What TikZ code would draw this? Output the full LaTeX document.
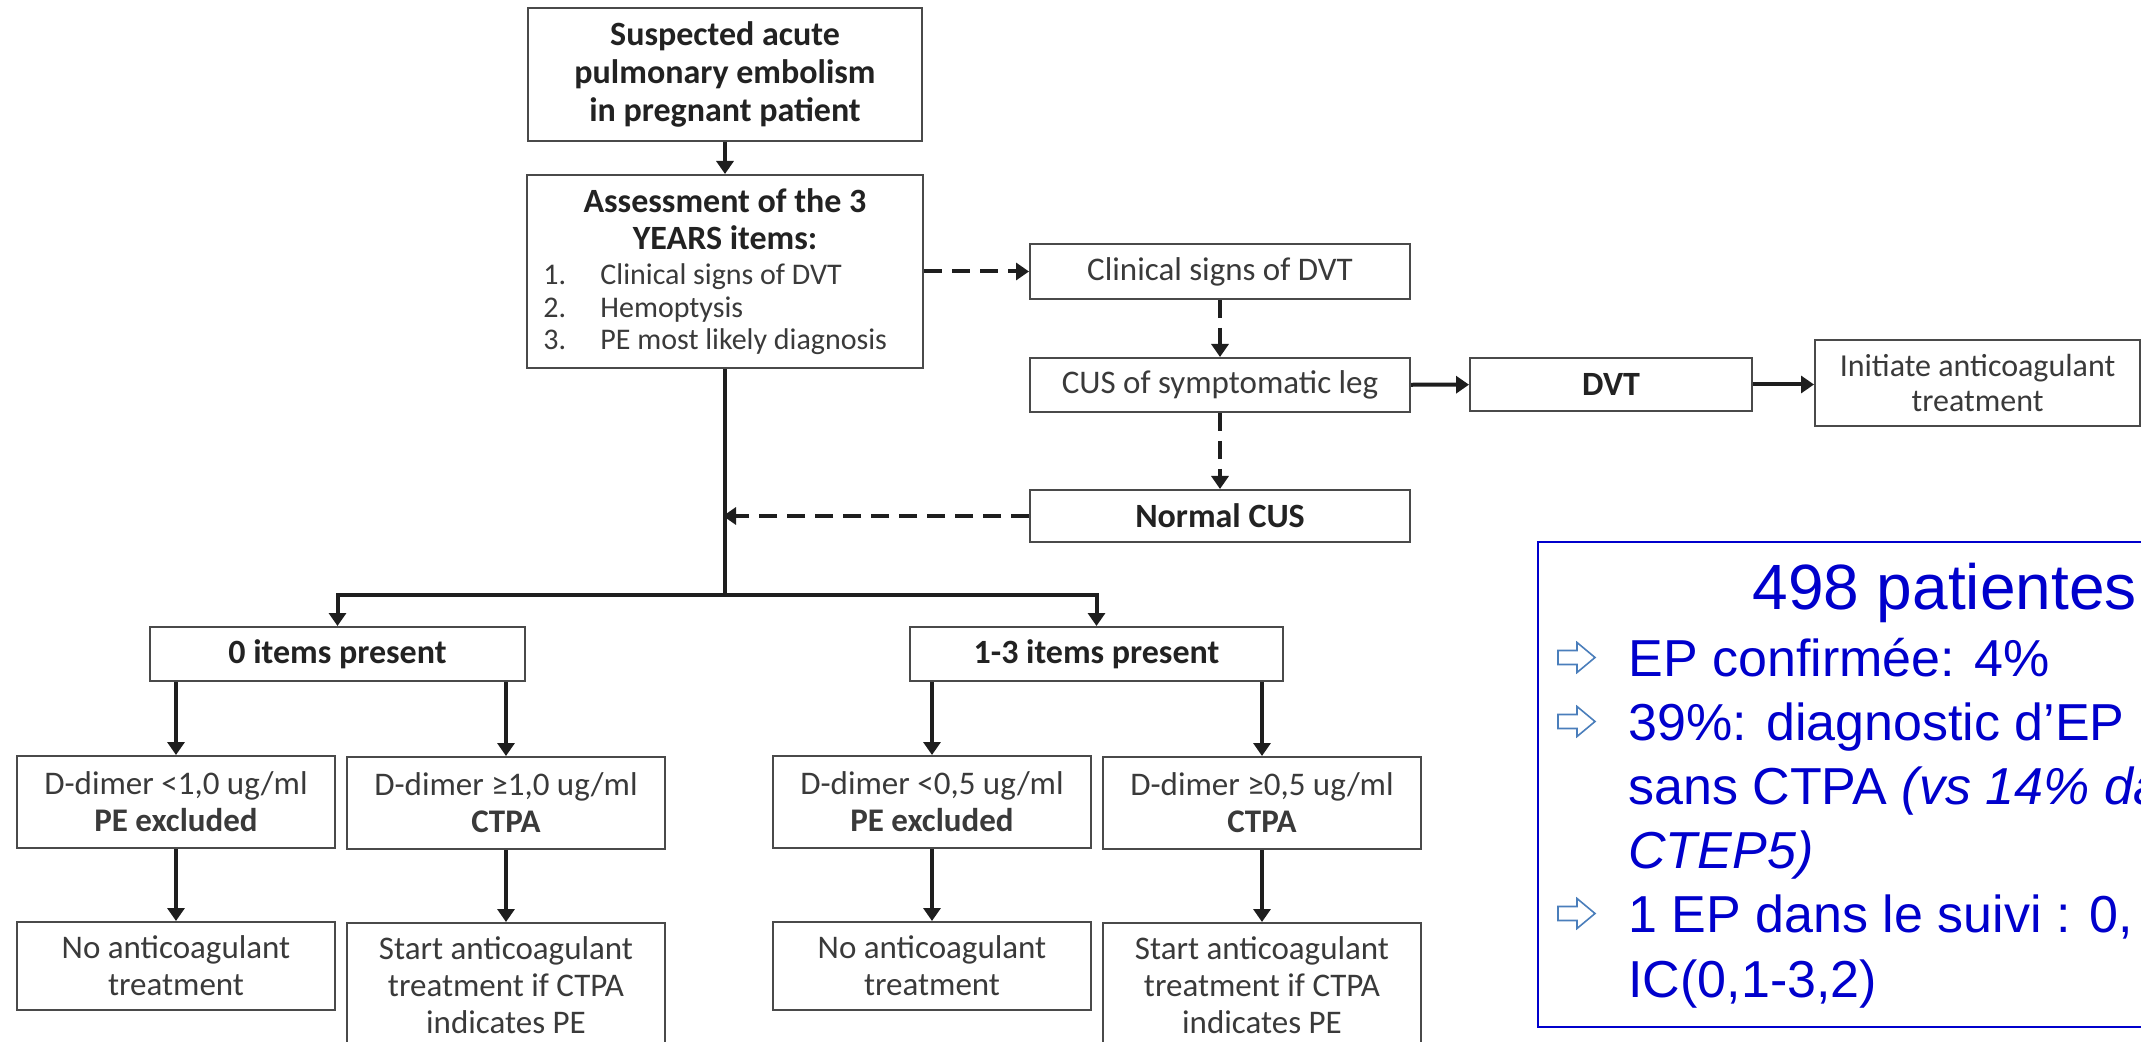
\documentclass[tikz,border=0pt]{standalone}
\usepackage{fontspec}
\setmainfont{Carlito}
\newfontfamily\statsfont{Liberation Sans}
\usetikzlibrary{arrows.meta}
\definecolor{inkgray}{HTML}{3A3A3A}
\definecolor{boldgray}{HTML}{222222}
\definecolor{framegray}{HTML}{4A4A4A}
\definecolor{linkblack}{HTML}{1E1E1E}
\definecolor{statblue}{RGB}{0,0,204}
\definecolor{bulletblue}{HTML}{4A7EBB}

\begin{document}
\begin{tikzpicture}[x=0.5pt, y=-0.5pt,
  box/.style={draw=framegray, line width=1pt, fill=white, inner sep=0pt,
    align=center, text=inkgray, font=\fontsize{16.5}{18.5}\selectfont},
  bold/.style={font=\bfseries\fontsize{17}{19}\selectfont, text=boldgray},
  dbox/.style={minimum width=159pt, minimum height=46pt},
  label/.style={inner sep=0pt, text=inkgray},
  itemtext/.style={label, anchor=base west, font=\fontsize{15}{16.5}\selectfont},
  link/.style={draw=linkblack, line width=2pt},
  flow/.style={link, -{Triangle[length=6.5pt,width=8.5pt]}},
  dashflow/.style={flow, dash pattern=on 9pt off 5pt},
  stattext/.style={anchor=base west, inner sep=0pt, text=statblue,
    font=\statsfont\fontsize{26}{32}\selectfont},
  hollowarrow/.pic={\draw[bulletblue, line width=0.8pt, line join=miter]
    (0,-7) -- (19,-7) -- (19,-15) -- (37,0) -- (19,15) -- (19,7) -- (0,7) -- cycle;}
]
\useasboundingbox (0,0) rectangle (2141,1042);
\fill[white] (0,0) rectangle (2141,1042);
\begin{scope}
\clip (0,0) rectangle (2141,1042);

% --- entry and YEARS assessment
\node[box, bold, minimum width=197pt, minimum height=66.5pt] (suspect) at (725,74.5)
  {Suspected acute\\pulmonary embolism\\in pregnant patient};
\node[box, minimum width=198pt, minimum height=96.5pt] (assess) at (725,271.5) {};
\node[label, bold, anchor=base] (assessHeadA) at (725,213) {Assessment of the 3};
\node[label, bold, anchor=base] (assessHeadB) at (725,250) {YEARS items:};
\node[itemtext] (numA) at (543,285) {1.};
\node[itemtext] (itemA) at (600,285) {Clinical signs of DVT};
\node[itemtext] (numB) at (543,318) {2.};
\node[itemtext] (itemB) at (600,318) {Hemoptysis};
\node[itemtext] (numC) at (543,350) {3.};
\node[itemtext] (itemC) at (600,350) {PE most likely diagnosis};

% --- DVT branch
\node[box, minimum width=190pt, minimum height=27.5pt] (clin) at (1220,271.5) {Clinical signs of DVT};
\node[box, minimum width=190pt, minimum height=27pt] (cus) at (1220,385) {CUS of symptomatic leg};
\node[box, bold, minimum width=190pt, minimum height=26pt] (normal) at (1220,516) {Normal CUS};
\node[box, bold, minimum width=141pt, minimum height=26.5pt] (dvt) at (1611,384.5) {DVT};
\node[box, font=\fontsize{16}{17.5}\selectfont, minimum width=162.5pt, minimum height=43pt] (init) at (1977.5,383)
  {Initiate anticoagulant\\treatment};

% --- item count groups
\node[box, bold, minimum width=187.5pt, minimum height=27pt] (zero) at (337.5,654) {0 items present};
\node[box, bold, minimum width=186.5pt, minimum height=27pt] (some) at (1096.5,654) {1-3 items present};

% --- D-dimer thresholds
\node[box, dbox] (dlowA) at (176,802) {D-dimer <1,0 ug/ml\\\textbf{PE excluded}};
\node[box, dbox] (dhighA) at (506,803) {D-dimer ≥1,0 ug/ml\\\textbf{CTPA}};
\node[box, dbox] (dlowB) at (932,802) {D-dimer <0,5 ug/ml\\\textbf{PE excluded}};
\node[box, dbox] (dhighB) at (1262,803) {D-dimer ≥0,5 ug/ml\\\textbf{CTPA}};

% --- management
\node[box, minimum width=159pt, minimum height=44pt] (noacA) at (176,966) {No anticoagulant\\treatment};
\node[box, minimum width=159pt, minimum height=62.5pt] (startA) at (506,985.5)
  {Start anticoagulant\\treatment if CTPA\\indicates PE};
\node[box, minimum width=159pt, minimum height=44pt] (noacB) at (932,966) {No anticoagulant\\treatment};
\node[box, minimum width=159pt, minimum height=62.5pt] (startB) at (1262,985.5)
  {Start anticoagulant\\treatment if CTPA\\indicates PE};

% --- connectors
\coordinate (split) at (725,595);
\draw[flow] (suspect) -- (assess);
\draw[dashflow] (assess.east) -- (clin.west);
\draw[dashflow] (clin) -- (cus);
\draw[dashflow] (cus) -- (normal);
\draw[flow] (cus) -- (dvt);
\draw[flow] (dvt.east) -- (dvt.east -| init.west);
\draw[link] (assess.south) -- (split);
\draw[dashflow, shorten >=-1pt] (normal.west) -- (assess.south |- normal.west);
\draw[flow] (split) -| (zero.north);
\draw[flow] (split) -| (some.north);
\draw[flow] (dlowA.north |- zero.south) -- (dlowA.north);
\draw[flow] (dhighA.north |- zero.south) -- (dhighA.north);
\draw[flow] (dlowB.north |- some.south) -- (dlowB.north);
\draw[flow] (dhighB.north |- some.south) -- (dhighB.north);
\draw[flow] (dlowA) -- (noacA);
\draw[flow] (dhighA.south) -- (dhighA.south |- startA.north);
\draw[flow] (dlowB) -- (noacB);
\draw[flow] (dhighB.south) -- (dhighB.south |- startB.north);

% --- study summary panel
\node[draw=statblue, line width=1pt, minimum width=332pt, minimum height=242.5pt,
  anchor=north west, inner sep=0pt] (stats) at (1537,541) {};
\node[stattext, font=\statsfont\fontsize{32}{38}\selectfont] (title) at (1752,610) {498 patientes};
\node[stattext] (lineA) at (1628,676) {EP confirmée: 4\%};
\node[stattext] (lineB) at (1628,740) {39\%: diagnostic d’EP};
\node[stattext] (lineC) at (1628,804) {sans CTPA \textit{(vs 14\% da}};
\node[stattext] (lineD) at (1628,868) {\textit{CTEP5)}};
\node[stattext] (lineE) at (1628,932) {1 EP dans le suivi : 0,};
\node[stattext] (lineF) at (1628,997) {IC(0,1-3,2)};
\pic at (1558,657.5) {hollowarrow};
\pic at (1558,721.5) {hollowarrow};
\pic at (1558,913.5) {hollowarrow};
\end{scope}
\end{tikzpicture}
\end{document}
